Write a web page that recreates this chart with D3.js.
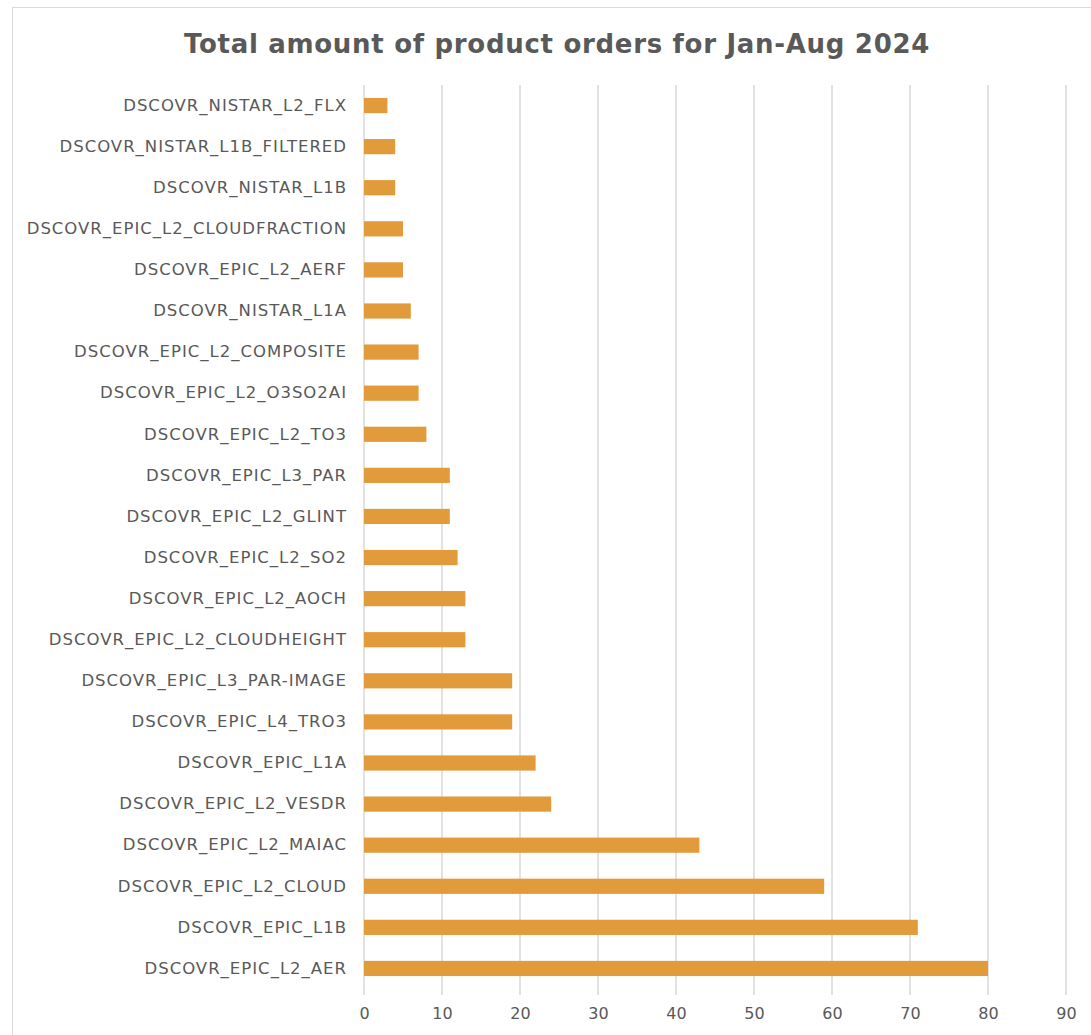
<!DOCTYPE html>
<html>
<head>
<meta charset="utf-8">
<script src="https://cdn.jsdelivr.net/npm/d3@7"></script>
<style>
  body { margin: 0; background: #fff; }
  svg text { font-family: "DejaVu Sans", sans-serif; }
</style>
</head>
<body>
<div id="chart"></div>
<script>
// Données (de haut en bas)
const categories = [
  "DSCOVR_NISTAR_L2_FLX", "DSCOVR_NISTAR_L1B_FILTERED", "DSCOVR_NISTAR_L1B",
  "DSCOVR_EPIC_L2_CLOUDFRACTION", "DSCOVR_EPIC_L2_AERF", "DSCOVR_NISTAR_L1A",
  "DSCOVR_EPIC_L2_COMPOSITE", "DSCOVR_EPIC_L2_O3SO2AI", "DSCOVR_EPIC_L2_TO3",
  "DSCOVR_EPIC_L3_PAR", "DSCOVR_EPIC_L2_GLINT", "DSCOVR_EPIC_L2_SO2",
  "DSCOVR_EPIC_L2_AOCH", "DSCOVR_EPIC_L2_CLOUDHEIGHT", "DSCOVR_EPIC_L3_PAR-IMAGE",
  "DSCOVR_EPIC_L4_TRO3", "DSCOVR_EPIC_L1A", "DSCOVR_EPIC_L2_VESDR",
  "DSCOVR_EPIC_L2_MAIAC", "DSCOVR_EPIC_L2_CLOUD", "DSCOVR_EPIC_L1B",
  "DSCOVR_EPIC_L2_AER"
];
const orders = [3, 4, 4, 5, 5, 6, 7, 7, 8, 11, 11, 12, 13, 13, 19, 19, 22, 24, 43, 59, 71, 80];
const xTicks = [0, 10, 20, 30, 40, 50, 60, 70, 80, 90];

const W = 1091, H = 1035;
const m = { left: 364, right: 1066, top: 85, bottom: 989 };

const svg = d3.select("#chart").append("svg")
  .attr("width", W).attr("height", H);

// cadre du graphique
svg.append("rect")
  .attr("x", 12.5).attr("y", 7.5)
  .attr("width", W + 20).attr("height", H + 20)
  .attr("fill", "none").attr("stroke", "#d9d9d9");

const x = d3.scaleLinear().domain([0, 90]).range([m.left, m.right]);
const y = d3.scaleBand().domain(categories).range([m.top, m.bottom]).paddingInner(0.63).paddingOuter(0.315);

// grille verticale
svg.append("g")
  .selectAll("line")
  .data(xTicks)
  .join("line")
  .attr("x1", d => x(d)).attr("x2", d => x(d))
  .attr("y1", m.top).attr("y2", m.bottom + 6)
  .attr("stroke", "#d9d9d9").attr("stroke-width", 1.5);

// barres
svg.append("g")
  .selectAll("rect")
  .data(orders)
  .join("rect")
  .attr("x", x(0))
  .attr("y", (d, i) => y(categories[i]))
  .attr("width", d => x(d) - x(0))
  .attr("height", y.bandwidth())
  .attr("fill", "#e29b3b");

// axe Y (libellés)
svg.append("g")
  .attr("transform", `translate(${m.left - 17},0)`)
  .call(d3.axisLeft(y).tickSize(0).tickPadding(0))
  .call(g => g.select(".domain").remove())
  .selectAll("text")
  .style("font-size", "16.5px")
  .style("letter-spacing", "1px")
  .style("fill", "#595959");

// axe X
svg.append("g")
  .attr("transform", `translate(0,${m.bottom + 12})`)
  .call(d3.axisBottom(x).tickValues(xTicks).tickSize(0).tickPadding(7))
  .call(g => g.select(".domain").remove())
  .selectAll("text")
  .style("font-size", "16px")
  .style("fill", "#595959");

// titre
svg.append("text")
  .attr("x", 557).attr("y", 53)
  .attr("text-anchor", "middle")
  .style("font-size", "26px")
  .style("font-weight", "bold")
  .style("letter-spacing", "0.7px")
  .style("fill", "#595959")
  .text("Total amount of product orders for Jan-Aug 2024");
</script>
</body>
</html>
